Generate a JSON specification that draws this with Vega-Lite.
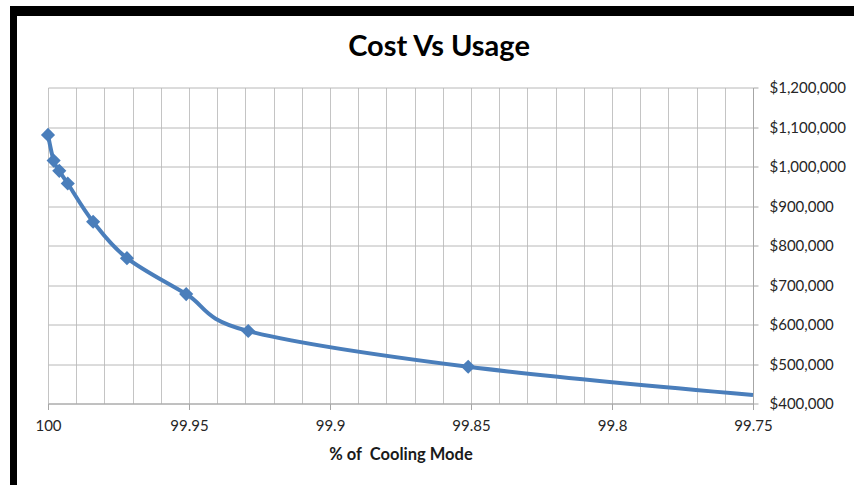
{
  "$schema": "https://vega.github.io/schema/vega-lite/v6.json",
  "padding": {"left": 10, "top": 6, "right": 0, "bottom": 0},
  "background": "white",
  "bounds": "flush",
  "spacing": 0,
  "config": {
    "view": {"stroke": null},
    "font": "Lato"
  },
  "vconcat": [
    {
      "width": 844,
      "height": 8,
      "view": {"fill": "black"},
      "data": {"values": []},
      "mark": "point"
    },
    {
      "bounds": "flush",
      "spacing": 31,
      "hconcat": [
        {
          "width": 7,
          "height": 471,
          "view": {"fill": "black"},
          "data": {"values": []},
          "mark": "point"
        },
        {
          "bounds": "flush",
          "spacing": 72.5,
          "vconcat": [
            {
              "width": 705,
              "height": 1,
              "data": {"values": []},
              "mark": "point"
            },
            {
              "width": 705,
              "height": 316,
              "title": {
                "text": "Cost Vs Usage",
                "font": "Lato",
                "fontSize": 29,
                "fontWeight": "bold",
                "color": "black",
                "anchor": "middle",
                "frame": "group",
                "baseline": "alphabetic",
                "dx": 38.5,
                "offset": -4
              },
              "data": {
                "values": [
                  {"pct": 100, "cost": 1080000},
                  {"pct": 99.998, "cost": 1015000},
                  {"pct": 99.996, "cost": 989000},
                  {"pct": 99.993, "cost": 957000},
                  {"pct": 99.984, "cost": 860000},
                  {"pct": 99.972, "cost": 768000},
                  {"pct": 99.951, "cost": 677000},
                  {"pct": 99.929, "cost": 583500},
                  {"pct": 99.851, "cost": 493000},
                  {"pct": 99.75, "cost": 421500}
                ]
              },
              "encoding": {
                "x": {
                  "field": "pct",
                  "type": "quantitative",
                  "title": "% of \u00a0Cooling Mode",
                  "scale": {"domain": [99.75, 100], "reverse": true, "nice": false, "zero": false},
                  "axis": {
                    "values": [100, 99.99, 99.98, 99.97, 99.96, 99.95, 99.94, 99.93, 99.92, 99.91, 99.9, 99.89, 99.88, 99.87, 99.86, 99.85, 99.84, 99.83, 99.82, 99.81, 99.8, 99.79, 99.78, 99.77, 99.76, 99.75],
                    "labelExpr": "abs(datum.value * 20 - round(datum.value * 20)) < 0.001 ? format(datum.value, '~g') : ''",
                    "labelFlush": false,
                    "labelOverlap": false,
                    "tickSize": 6,
                    "tickColor": "#a6a6a6",
                    "tickOpacity": {
                      "condition": {"test": "abs(datum.value * 20 - round(datum.value * 20)) < 0.001", "value": 1},
                      "value": 0
                    },
                    "grid": true,
                    "gridColor": "#c4c4c4",
                    "gridWidth": 1,
                    "domainColor": "#a6a6a6",
                    "labelFont": "Lato",
                    "labelFontSize": 15,
                    "labelColor": "#262626",
                    "labelPadding": 9,
                    "titleFont": "Lato",
                    "titleFontSize": 16.5,
                    "titleFontWeight": "bold",
                    "titleColor": "#1a1a1a",
                    "titlePadding": 13
                  }
                },
                "y": {
                  "field": "cost",
                  "type": "quantitative",
                  "scale": {"domain": [400000, 1200000], "nice": false, "zero": false},
                  "axis": {
                    "orient": "right",
                    "title": null,
                    "values": [400000, 500000, 600000, 700000, 800000, 900000, 1000000, 1100000, 1200000],
                    "format": "$,.0f",
                    "tickSize": 5,
                    "tickColor": "#a6a6a6",
                    "domainColor": "#a6a6a6",
                    "grid": true,
                    "gridColor": "#b8b8b8",
                    "labelFont": "Lato",
                    "labelFontSize": 15,
                    "labelColor": "#262626",
                    "labelPadding": 11
                  }
                }
              },
              "layer": [
                {
                  "mark": {"type": "line", "interpolate": "cardinal", "tension": 0, "color": "#4a7ebb", "strokeWidth": 4}
                },
                {
                  "transform": [{"filter": "datum.pct > 99.75"}],
                  "mark": {"type": "point", "shape": "diamond", "filled": true, "opacity": 1, "size": 200, "color": "#4a7ebb"}
                }
              ]
            }
          ]
        }
      ]
    },
    {
      "width": 844,
      "height": 2,
      "view": {"fill": "black"},
      "data": {"values": []},
      "mark": "point"
    }
  ]
}
